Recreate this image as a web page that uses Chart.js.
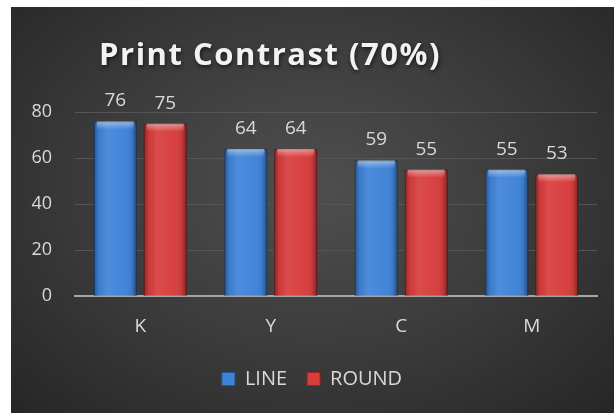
<!DOCTYPE html>
<html>
<head>
<meta charset="utf-8">
<script src="https://cdn.jsdelivr.net/npm/chart.js@4"></script>
<style>
  html, body { margin: 0; padding: 0; background: #fff; }
  #wrap {
    position: absolute; left: 11px; top: 7px; width: 603px; height: 406px;
    background: radial-gradient(ellipse at 50% 45%, #4f4f4f 0%, #3a3a3a 55%, #262626 100%);
  }
  canvas { display: block; }
</style>
</head>
<body>
<div id="wrap"><canvas id="chart" width="603" height="406"></canvas></div>
<script>
    const categories = ['K', 'Y', 'C', 'M'];
    const lineValues = [76, 64, 59, 55];
    const roundValues = [75, 64, 55, 53];
    const yTicks = [0, 20, 40, 60, 80];
    const titleText = 'Print Contrast (70%)';

    /* ================= TITLE (letter spaced) ================= */
    const spacedTitle = {
        id: 'spacedTitle',
        afterDraw(chart) {
            const ctx = chart.ctx;
            ctx.save();
            ctx.font = 'bold 31px "Open Sans", sans-serif';
            ctx.letterSpacing = '1.5px';
            ctx.textAlign = 'center';
            ctx.textBaseline = 'alphabetic';
            ctx.shadowColor = 'rgba(0,0,0,0.6)';
            ctx.shadowBlur = 4;
            ctx.shadowOffsetX = 1;
            ctx.shadowOffsetY = 2;
            ctx.fillStyle = '#f2f2f2';
            ctx.fillText(titleText, 259, 58);
            ctx.letterSpacing = '0px';
            ctx.restore();
        }
    };

    /* ================= BAR GLOSS + LABELS ================= */
    const barExtras = {
        id: 'barExtras',
        afterDatasetsDraw(chart) {
            const ctx = chart.ctx;
            chart.data.datasets.forEach((ds, i) => {
                const meta = chart.getDatasetMeta(i);
                meta.data.forEach((bar, j) => {
                    const left = bar.x - bar.width / 2;
                    const right = bar.x + bar.width / 2;
                    const top = bar.y;
                    const bottom = bar.base;
                    const g = ctx.createLinearGradient(left, 0, right, 0);
                    g.addColorStop(0, 'rgba(0,0,0,0.35)');
                    g.addColorStop(0.12, 'rgba(0,0,0,0.05)');
                    g.addColorStop(0.3, 'rgba(255,255,255,0.08)');
                    g.addColorStop(0.7, 'rgba(255,255,255,0.02)');
                    g.addColorStop(0.88, 'rgba(0,0,0,0.08)');
                    g.addColorStop(1, 'rgba(0,0,0,0.4)');
                    ctx.save();
                    ctx.fillStyle = g;
                    ctx.fillRect(left, top, right - left, bottom - top);
                    const h = ctx.createLinearGradient(0, top, 0, top + 8);
                    h.addColorStop(0, 'rgba(255,255,255,0.45)');
                    h.addColorStop(1, 'rgba(255,255,255,0)');
                    ctx.fillStyle = h;
                    ctx.fillRect(left + 3, top, right - left - 6, 8);
                    ctx.fillStyle = '#d9d9d9';
                    ctx.font = '19px "Open Sans", sans-serif';
                    ctx.textAlign = 'center';
                    ctx.textBaseline = 'bottom';
                    ctx.fillText(ds.data[j], bar.x, top - 11);
                    ctx.restore();
                });
            });
        }
    };

    /* ================= CHART ================= */
    new Chart(document.getElementById('chart'), {
        type: 'bar',
        data: {
            labels: categories,
            datasets: [{
                label: 'LINE',
                data: lineValues,
                backgroundColor: '#3f83d8',
                borderColor: '#23589e',
                borderWidth: 1
            }, {
                label: 'ROUND',
                data: roundValues,
                backgroundColor: '#d83d3d',
                borderColor: '#9a2222',
                borderWidth: 1
            }]
        },
        options: {
            responsive: false,
            animation: false,
            layout: { padding: { left: 16, right: 17, top: 6, bottom: 14 } },
            categoryPercentage: 0.766,
            barPercentage: 0.86,
            plugins: {
                title: {
                    display: true,
                    text: titleText,
                    color: 'rgba(0,0,0,0)',
                    font: { family: '"Open Sans", sans-serif', size: 31, weight: 'bold' },
                    padding: { top: 22, bottom: 40 }
                },
                legend: {
                    position: 'bottom',
                    labels: {
                        color: '#d9d9d9',
                        font: { family: '"Open Sans", sans-serif', size: 20 },
                        boxWidth: 13,
                        boxHeight: 13,
                        padding: 20
                    }
                },
                tooltip: { enabled: false }
            },
            scales: {
                x: {
                    ticks: {
                        color: '#d9d9d9',
                        font: { family: '"Open Sans", sans-serif', size: 19 },
                        padding: 11
                    },
                    grid: { display: false },
                    border: { color: '#a6a6a6', width: 2 }
                },
                y: {
                    min: 0,
                    max: 80,
                    afterBuildTicks(axis) {
                        axis.ticks = yTicks.map(v => ({ value: v }));
                    },
                    afterFit(axis) {
                        axis.width = 48;
                    },
                    ticks: {
                        color: '#d9d9d9',
                        font: { family: '"Open Sans", sans-serif', size: 18 },
                        padding: 23
                    },
                    grid: { color: '#555555', drawTicks: false },
                    border: { display: false }
                }
            }
        },
        plugins: [barExtras, spacedTitle]
    });
</script>
</body>
</html>
